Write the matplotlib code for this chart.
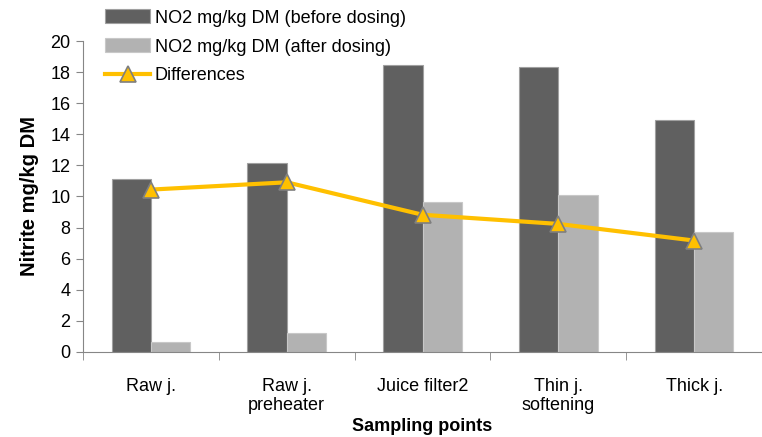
import matplotlib.pyplot as plt
import numpy as np

# Nitrite content at each sampling point
categories = ["Raw j.", "Raw j.\npreheater", "Juice filter2", "Thin j.\nsoftening", "Thick j."]
before = [11.1, 12.13, 18.45, 18.33, 14.9]
after = [0.66, 1.22, 9.63, 10.1, 7.74]
differences = [10.44, 10.91, 8.82, 8.23, 7.16]

plt.rcParams['font.family'] = ['Liberation Sans', 'DejaVu Sans']

fig = plt.figure(figsize=(7.62, 4.37), dpi=100)
ax = fig.add_axes([0.109, 0.195, 0.891, 0.711])

x = np.arange(len(categories))
w = 0.29
b1 = ax.bar(x - w / 2, before, w, color='#606060', edgecolor='#a0a0a0', linewidth=0.8,
            label='NO2 mg/kg DM (before dosing)', zorder=2)
b2 = ax.bar(x + w / 2, after, w, color='#b2b2b2', edgecolor='#c8c8c8', linewidth=0.8,
            label='NO2 mg/kg DM (after dosing)', zorder=2)
ln, = ax.plot(x, differences, color='#ffc000', linewidth=3, marker='^', markersize=11,
              markerfacecolor='#ffc000', markeredgecolor='#7f7f7f', markeredgewidth=1.2,
              label='Differences', zorder=3)

ax.set_xlim(-0.5, 4.456)
ax.set_ylim(0, 20)
ax.set_yticks(range(0, 21, 2))
ax.set_xticks(x)
ax.set_xticklabels(categories, fontsize=13, linespacing=1.15)
ax.set_xticks(np.arange(-0.5, 5, 1), minor=True)
ax.tick_params(axis='x', which='major', length=0, pad=19)
ax.tick_params(axis='x', which='minor', length=6, color='#868686', direction='out')
ax.tick_params(axis='y', length=5, color='#868686', labelsize=13, pad=4)

for side in ['top', 'right']:
    ax.spines[side].set_visible(False)
for side in ['left', 'bottom']:
    ax.spines[side].set_color('#868686')

ax.set_ylabel('Nitrite mg/kg DM', fontsize=14.5, fontweight='bold', labelpad=8)
ax.set_xlabel('Sampling points', fontsize=13, fontweight='bold', labelpad=3)

ax.legend(handles=[b1, b2, ln], loc='upper left', bbox_to_anchor=(0.022, 1.125),
          frameon=False, fontsize=13, handlelength=2.5, handleheight=0.8,
          labelspacing=0.65, handletextpad=0.25, borderaxespad=0)

fig.savefig('out.png', dpi=100)
